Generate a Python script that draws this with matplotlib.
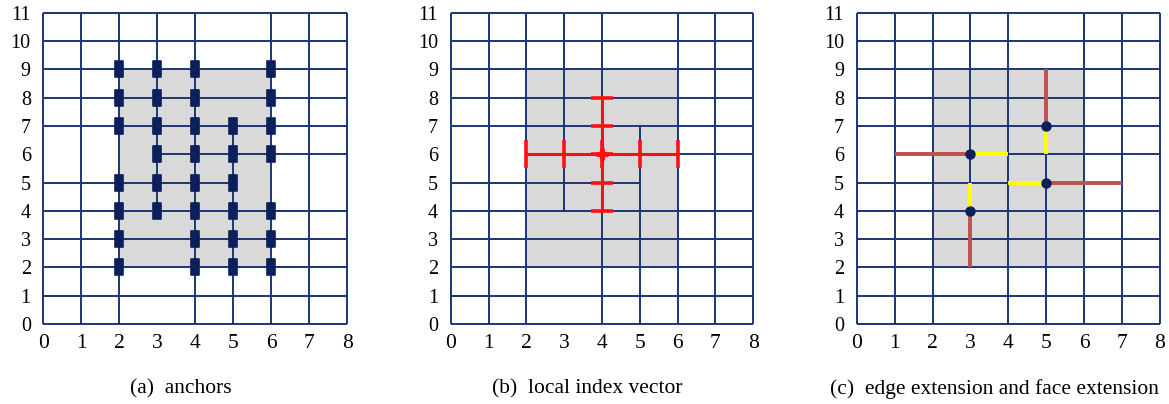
import matplotlib
matplotlib.use("Agg")
import matplotlib.pyplot as plt
from matplotlib.path import Path
from matplotlib.markers import MarkerStyle

plt.rcParams['font.family'] = ['Liberation Serif', 'DejaVu Serif']

# ---------------- data ----------------
x_ticks = list(range(0, 9))
y_ticks = list(range(0, 12))

# T-mesh: full lines unless listed as partial
v_line_x = [0, 1, 2, 3, 4, 5, 6, 7, 8]
v_line_y0 = [0, 0, 0, 4, 0, 0, 0, 0, 0]
v_line_y1 = [11, 11, 11, 11, 11, 7, 11, 11, 11]
h_line_y = [0, 1, 2, 3, 4, 5, 6, 7, 8, 9, 10, 11]
h_line_x0 = [0, 0, 0, 0, 0, 0, 3, 0, 0, 0, 0, 0]
h_line_x1 = [8, 8, 8, 8, 8, 5, 8, 8, 8, 8, 8, 8]

# grey region
region_x = [2, 6]
region_y0 = 2
region_y1 = 9

# (a) anchors
anchor_x = [2, 2, 2, 2, 2, 2, 2,
            3, 3, 3, 3, 3, 3,
            4, 4, 4, 4, 4, 4, 4, 4,
            5, 5, 5, 5, 5, 5,
            6, 6, 6, 6, 6, 6, 6]
anchor_y = [9, 8, 7, 5, 4, 3, 2,
            9, 8, 7, 6, 5, 4,
            9, 8, 7, 6, 5, 4, 3, 2,
            7, 6, 5, 4, 3, 2,
            9, 8, 7, 6, 4, 3, 2]

# (b) local index vector of anchor (4, 6)
center = (4, 6)
knots_s = [2, 3, 4, 5, 6]
knots_t = [4, 5, 6, 7, 8]

# (c) T-junctions, edge extensions, face extensions
tj_x = [3, 3, 5, 5]
tj_y = [6, 4, 7, 5]
edge_x0 = [1, 3, 5, 5]
edge_y0 = [6, 4, 7, 5]
edge_x1 = [3, 3, 5, 7]
edge_y1 = [6, 2, 9, 5]
face_x0 = [3.1, 3, 5, 4.95]
face_y0 = [6, 4.1, 6.9, 5]
face_x1 = [4, 3, 5, 4]
face_y1 = [6, 5, 6, 5]

captions = ["(a)  anchors", "(b)  local index vector",
            "(c)  edge extension and face extension"]

# ---------------- style ----------------
W, H = 1169, 404
GRID = '#1b3576'
ANCH = '#0a1f5c'
GREY = '#d9d9d9'

fig = plt.figure(figsize=(W / 100, H / 100), dpi=100)
lefts = [43.3, 450.7, 856.7]
widths = [304, 302.6, 303.3]
top_px, bot_px = 12.7, 324
cap_x = [181, 587.5, 994]

axes = []
for i in range(3):
    ax = fig.add_axes([lefts[i] / W, 1 - bot_px / H, widths[i] / W, (bot_px - top_px) / H])
    ax.set_xlim(0, 8)
    ax.set_ylim(0, 11)
    for s in ax.spines.values():
        s.set_visible(False)
    ax.set_xticks(x_ticks)
    ax.set_yticks(y_ticks)
    ax.set_xticklabels([str(v) for v in x_ticks], fontsize=15.5)
    ax.set_yticklabels([str(v) for v in y_ticks], fontsize=14.5)
    ax.tick_params(axis='x', length=0, pad=7)
    ax.tick_params(axis='y', length=0, pad=9)
    ax.fill_between(region_x, region_y0, region_y1, color=GREY, lw=0, zorder=0)
    ax.vlines(v_line_x, v_line_y0, v_line_y1, colors=GRID, lw=1.4, zorder=1, clip_on=False)
    ax.hlines(h_line_y, h_line_x0, h_line_x1, colors=GRID, lw=1.4, zorder=1, clip_on=False)
    fig.text(cap_x[i] / W, 1 - 389 / H, captions[i], ha='center', va='center', fontsize=15.5)
    axes.append(ax)

# (a) anchors
rect = Path([(-0.27, -0.5), (0.27, -0.5), (0.27, 0.5), (-0.27, 0.5), (-0.27, -0.5)],
            [Path.MOVETO, Path.LINETO, Path.LINETO, Path.LINETO, Path.CLOSEPOLY])
axes[0].plot(anchor_x, anchor_y, ls='none',
             marker=MarkerStyle(rect, joinstyle='round'), markersize=11.5,
             mfc=ANCH, mec=ANCH, mew=1.2, zorder=3)

# (b) local index vector
RED = '#ff1010'
axb = axes[1]
cx, cy = center
axb.plot([knots_s[0], knots_s[-1]], [cy, cy], color=RED, lw=2.2, zorder=3, solid_capstyle='butt')
axb.plot([cx, cx], [knots_t[0], knots_t[-1]], color=RED, lw=2.2, zorder=3, solid_capstyle='butt')
axb.vlines(knots_s, cy - 0.5, cy + 0.5, colors=RED, lw=2.6, zorder=3)
axb.hlines(knots_t, cx - 0.3, cx + 0.3, colors=RED, lw=2.6, zorder=3)
axb.plot([cx], [cy], marker='+', markersize=9, mew=3.5, color=RED, zorder=4)

# (c) extensions
axc = axes[2]
for x0, y0, x1, y1 in zip(edge_x0, edge_y0, edge_x1, edge_y1):
    axc.plot([x0, x1], [y0, y1], color='#c0504d', lw=2.8, zorder=2, solid_capstyle='butt')
for x0, y0, x1, y1 in zip(face_x0, face_y0, face_x1, face_y1):
    axc.plot([x0, x1], [y0, y1], color='#ffff00', lw=2.8, zorder=2, solid_capstyle='butt')
axc.plot(tj_x, tj_y, ls='none', marker='o', markersize=6.5, mfc=ANCH, mec=ANCH, zorder=4)

fig.savefig('out.png', dpi=100)
